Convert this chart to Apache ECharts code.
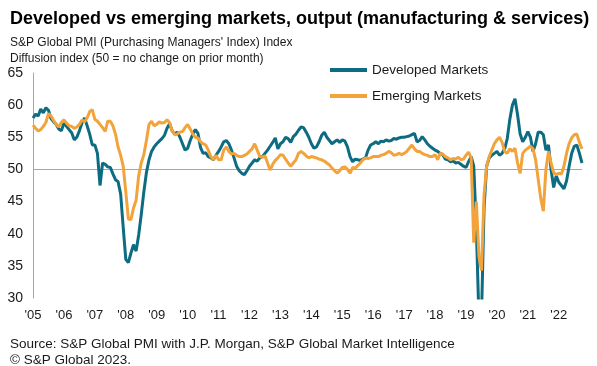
<!DOCTYPE html>
<html>
<head>
<meta charset="utf-8">
<script src="https://cdn.jsdelivr.net/npm/echarts@6/dist/echarts.min.js"></script>
<style>
html,body{margin:0;padding:0;background:#fff;}
#chart{width:597px;height:366px;}
</style>
</head>
<body>
<div id="chart"></div>
<script>
// Monthly observations, Oct 2005 – Jul 2023
var startYear = 2005, startMonth = 10;
var developed = [
58.0,58.6,58.3,59.4,58.8,59.6,59.2,57.9,57.4,57.0,56.3,56.0,
57.2,56.7,56.2,55.7,54.6,55.0,56.0,57.2,58.0,56.8,55.5,53.8,
53.8,52.5,47.5,51.0,50.8,50.4,50.3,49.3,48.4,48.1,46.2,41.0,
36.0,35.5,37.0,38.3,37.3,39.8,43.0,46.5,49.5,51.5,52.8,53.5,
54.0,54.4,54.8,55.3,56.4,57.1,56.0,55.5,55.8,55.0,54.0,53.0,
53.3,54.5,55.5,56.2,55.6,53.4,52.5,52.6,52.0,51.8,51.5,52.2,
52.8,53.5,54.3,54.5,54.0,53.0,51.8,50.5,49.8,49.4,49.2,49.8,
50.5,51.0,51.5,51.3,51.8,52.0,52.5,53.0,53.6,54.2,54.9,53.2,
54.0,54.3,55.0,54.8,54.2,55.1,55.5,56.1,56.6,56.5,55.8,55.0,
54.0,53.3,53.5,54.3,55.3,55.8,55.0,54.5,54.0,54.3,54.6,54.2,
54.6,54.4,53.5,52.0,51.2,51.6,51.5,51.4,51.6,51.8,53.0,53.8,
54.0,54.3,54.0,54.4,54.3,54.6,54.4,54.5,54.8,54.7,54.9,55.0,
55.0,55.1,55.2,55.4,55.6,54.3,54.5,55.1,54.6,54.0,53.6,53.3,
53.0,52.8,52.5,52.3,51.6,51.5,51.2,51.3,51.0,51.1,50.8,50.5,
50.3,51.2,52.0,50.5,41.0,27.0,27.0,44.0,50.5,51.8,52.2,52.5,
52.8,52.2,52.5,53.2,54.8,57.8,60.0,61.0,58.5,55.5,54.3,55.0,
55.9,55.0,52.8,54.0,55.8,55.8,55.4,53.0,53.8,50.0,47.2,49.0,
48.0,47.5,47.0,48.2,50.5,52.5,53.6,53.8,52.5,51.0
];
var emerging = [
56.9,56.4,56.0,56.2,56.7,57.3,58.7,58.3,57.6,57.0,56.6,57.3,
57.7,57.2,56.8,56.7,56.4,56.6,57.0,57.7,57.4,58.0,59.0,59.3,
57.8,57.5,57.0,56.5,55.9,57.5,57.5,56.8,55.5,53.5,52.2,50.5,
46.5,42.3,42.2,44.0,45.2,49.0,51.0,52.3,54.5,57.0,57.5,56.8,
57.0,57.4,57.2,57.3,57.7,57.3,56.0,55.4,55.5,55.8,55.9,56.5,
57.0,56.3,55.5,55.0,54.9,54.3,54.0,53.8,53.0,52.0,51.5,52.2,
51.5,51.5,53.0,53.5,52.8,52.4,52.5,52.2,52.0,52.0,52.2,52.4,
52.8,53.2,54.0,53.0,52.0,51.9,52.1,51.0,49.9,50.8,51.4,51.8,
52.3,52.2,51.6,51.0,50.5,51.0,51.5,52.5,52.8,52.5,52.1,51.8,
52.0,51.9,51.8,51.6,51.5,51.3,51.0,50.7,50.2,49.8,49.4,49.8,
50.3,50.4,50.0,49.4,50.3,50.2,50.6,51.0,51.5,51.8,51.7,51.8,
52.0,52.0,52.0,52.2,52.3,52.5,52.8,52.6,52.2,52.3,52.5,52.3,
52.5,52.8,53.3,53.8,53.2,52.8,52.8,52.5,52.3,52.2,52.0,52.0,
52.3,51.5,52.5,52.4,52.0,51.8,51.5,51.7,51.6,51.9,51.5,51.6,
52.2,52.7,51.8,38.6,45.0,36.5,34.3,46.0,50.5,52.0,53.0,54.0,
54.6,55.0,54.2,52.8,52.5,53.2,52.8,53.3,51.0,49.4,52.5,53.0,
53.3,53.6,53.2,51.5,48.5,45.5,43.5,50.0,52.8,51.0,49.5,49.2,
49.4,49.3,50.5,52.5,54.0,54.9,55.4,55.5,54.2,53.2
];
var yearTickLabels = ["'05","'06","'07","'08","'09","'10","'11","'12","'13","'14","'15","'16","'17","'18","'19","'20","'21","'22"];
var seriesNames = ["Developed Markets","Emerging Markets"];
var yTicks = {min:30, max:65, interval:5};

var months = [];
for (var i = 0; i < developed.length; i++) {
  var m = startMonth - 1 + i;
  var y = startYear + Math.floor(m / 12);
  var mm = (m % 12) + 1;
  months.push(y + '-' + (mm < 10 ? '0' + mm : mm));
}

var FONT = "'Liberation Sans', Arial, sans-serif";
var TXT = '#1a1a1a';
var chart = echarts.init(document.getElementById('chart'), null, {renderer:'canvas'});
chart.setOption({
  animation:false,
  backgroundColor:'#ffffff',
  title:[
    {text:'Developed vs emerging markets, output (manufacturing & services)', left:5, top:5,
     textStyle:{fontFamily:FONT, fontSize:18, fontWeight:'bold', color:'#000'}},
    {text:"S&P Global PMI (Purchasing Managers' Index) Index\nDiffusion index (50 = no change on prior month)", left:5, top:30,
     textStyle:{fontFamily:FONT, fontSize:12, fontWeight:'normal', color:TXT, lineHeight:16}},
    {text:'Source: S&P Global PMI with J.P. Morgan, S&P Global Market Intelligence\n\u00A9 S&P Global 2023.', left:5, top:331,
     textStyle:{fontFamily:FONT, fontSize:13.5, fontWeight:'normal', color:TXT, lineHeight:16}}
  ],
  legend:{
    orient:'vertical', left:325, top:58, itemGap:12, itemWidth:37, itemHeight:4,
    icon:'rect',
    data:seriesNames,
    textStyle:{fontFamily:FONT, fontSize:13.5, color:TXT}
  },
  grid:{left:33, right:15, top:73, bottom:68, containLabel:false},
  xAxis:{
    type:'category', data:months, boundaryGap:false,
    axisLine:{show:false}, axisTick:{show:false}, splitLine:{show:false},
    axisLabel:{
      interval:function(idx){return idx % 12 === 0;},
      formatter:function(v, idx){return yearTickLabels[Math.round(idx/12)] || '';},
      fontFamily:FONT, fontSize:13, color:TXT, margin:11
    }
  },
  yAxis:{
    type:'value', min:yTicks.min, max:yTicks.max, interval:yTicks.interval,
    axisLine:{show:true, lineStyle:{color:'#a6a6a6', width:1}},
    axisTick:{show:false}, splitLine:{show:false},
    axisLabel:{fontFamily:FONT, fontSize:14, color:TXT, margin:10}
  },
  series:[
    {name:seriesNames[0], type:'line', data:developed, symbol:'none', clip:true,
     lineStyle:{color:'#0d6b82', width:3}, itemStyle:{color:'#0d6b82'}, z:3,
     markLine:{silent:true, symbol:['none','none'], label:{show:false},
       lineStyle:{color:'#a6a6a6', width:1, type:'solid'}, data:[{yAxis:50}], z:1}},
    {name:seriesNames[1], type:'line', data:emerging, symbol:'none', clip:true,
     lineStyle:{color:'#f2a33a', width:3}, itemStyle:{color:'#f2a33a'}, z:4}
  ]
});
</script>
</body>
</html>
